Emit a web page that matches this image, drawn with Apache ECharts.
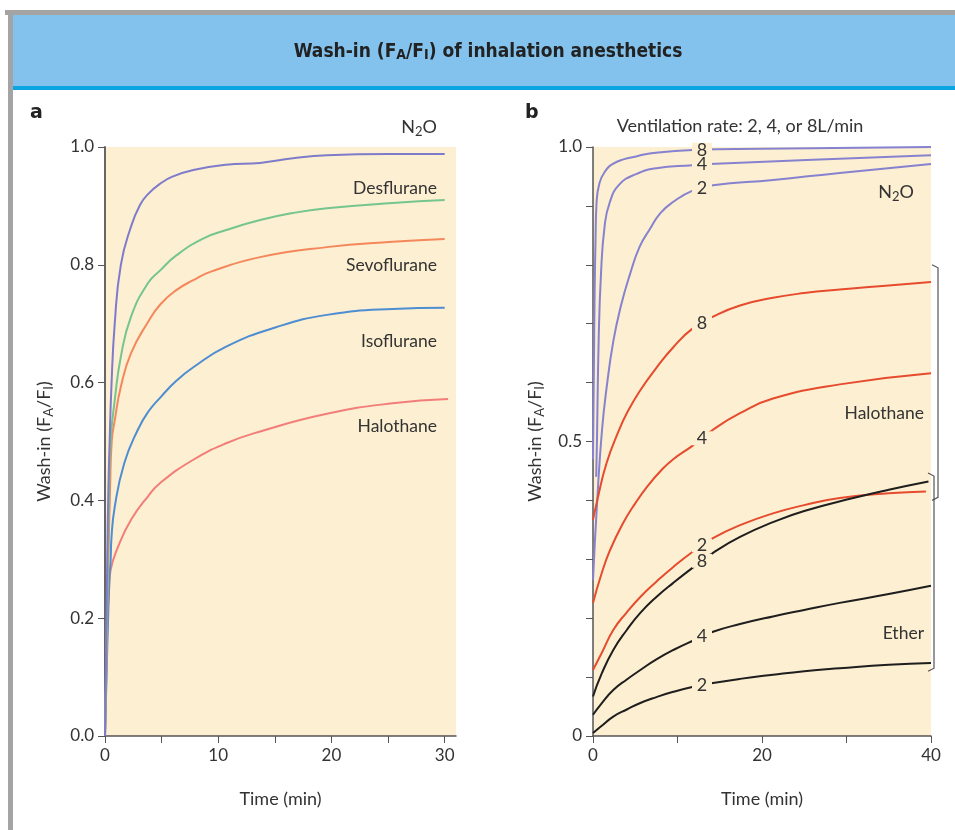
<!DOCTYPE html>
<html><head><meta charset="utf-8">
<script src="https://cdn.jsdelivr.net/npm/echarts@6/dist/echarts.min.js"></script>
<style>html,body{margin:0;padding:0;background:#fff}#c{width:955px;height:830px}</style>
</head><body><div id="c"></div>
<script>
// ---------- Panel a: wash-in by agent (time in min, FA/FI) ----------
const a_N2O = [[0,0],[0.1,0.15],[0.2,0.3],[0.3,0.42],[0.41,0.5],[0.56,0.59],[0.86,0.7],[1.4,0.8],[2.3,0.865],[3.1,0.902],[3.8,0.92],[4.9,0.938],[6,0.95],[7.8,0.961],[10.7,0.97],[13.7,0.973],[16.6,0.981],[19.6,0.986],[25,0.988],[30,0.988]];
const a_Des = [[0,0],[0.1,0.12],[0.25,0.3],[0.35,0.4],[0.5,0.502],[0.86,0.57],[1.4,0.644],[2.3,0.712],[3.8,0.769],[4.9,0.791],[6.3,0.816],[8.7,0.845],[10.7,0.859],[13.7,0.876],[16.6,0.888],[19.6,0.896],[25.4,0.905],[30,0.91]];
const a_Sevo = [[0,0],[0.1,0.1],[0.3,0.3],[0.45,0.42],[0.6,0.502],[0.86,0.536],[1.4,0.593],[2.3,0.65],[3.8,0.703],[4.9,0.733],[6.3,0.757],[7.8,0.774],[9.3,0.788],[13.7,0.813],[19.6,0.83],[25.4,0.839],[30,0.844]];
const a_Iso = [[0,0],[0.2,0.15],[0.4,0.27],[0.5,0.299],[0.56,0.333],[0.86,0.389],[1.7,0.463],[2.9,0.52],[3.8,0.55],[4.9,0.575],[6.3,0.603],[7.8,0.626],[10.7,0.661],[15.1,0.694],[19.6,0.715],[25.4,0.725],[30,0.727]];
const a_Halo = [[0,0],[0.1,0.09],[0.2,0.18],[0.35,0.25],[0.5,0.282],[1.15,0.321],[2.3,0.367],[3.8,0.407],[4.9,0.43],[7.8,0.469],[10.7,0.497],[13.7,0.517],[19.6,0.547],[25.4,0.565],[30.3,0.572]];
const aNames = ['N2O','Desflurane','Sevoflurane','Isoflurane','Halothane'];

// ---------- Panel b: ventilation rate 2, 4, 8 L/min ----------
const b_N2O_8 = [[0,0.47],[0.1,0.62],[0.2,0.76],[0.3,0.842],[0.4,0.899],[0.77,0.939],[1.6,0.962],[2.3,0.971],[3.6,0.979],[5.1,0.984],[6.7,0.989],[11.8,0.995],[20,0.997],[40,1.0]];
const b_N2O_4 = [[0.38,0.44],[0.47,0.503],[0.67,0.672],[0.95,0.786],[1.37,0.865],[1.96,0.905],[3.1,0.936],[5.1,0.954],[7.5,0.964],[11.8,0.969],[13.8,0.971],[25.3,0.978],[40,0.986]];
const b_N2O_2 = [[0,0.265],[0.5,0.4],[1.07,0.52],[1.6,0.59],[2.4,0.67],[3.3,0.73],[4.4,0.785],[5.5,0.83],[6.7,0.86],[8,0.888],[9.5,0.907],[11.8,0.926],[14.2,0.935],[21.3,0.944],[29.2,0.956],[40,0.971]];
const b_Halo_8 = [[0,0.367],[0.5,0.4],[1.6,0.463],[3.1,0.52],[4,0.548],[5.5,0.585],[7.5,0.625],[9.5,0.66],[11.8,0.692],[14.2,0.712],[17.4,0.731],[21.3,0.744],[25,0.752],[29.2,0.758],[35,0.765],[40,0.771]];
const b_Halo_4 = [[0,0.226],[1,0.275],[2,0.315],[3.5,0.36],[5,0.395],[6.5,0.425],[8,0.45],[9.5,0.47],[11.8,0.493],[14.2,0.52],[17.4,0.548],[21.3,0.573],[29.2,0.597],[40,0.616]];
const b_Halo_2 = [[0,0.112],[1,0.14],[2.4,0.18],[4,0.21],[5.6,0.236],[7.5,0.262],[9.5,0.287],[12,0.315],[14.2,0.336],[17.4,0.358],[21.3,0.378],[25,0.392],[29.2,0.404],[35,0.412],[39.4,0.415]];
const b_Ether_8 = [[0,0.067],[1,0.105],[2.4,0.146],[4,0.18],[5.6,0.209],[7.5,0.236],[9.5,0.26],[12,0.288],[14.2,0.311],[17.4,0.338],[21.3,0.363],[25,0.382],[30.8,0.404],[35,0.418],[39.7,0.432]];
const b_Ether_4 = [[0,0.036],[1,0.055],[2.4,0.078],[4,0.096],[5.6,0.112],[7.5,0.13],[9.5,0.146],[12,0.163],[14.2,0.177],[17.4,0.19],[21.3,0.203],[25,0.214],[29.2,0.226],[35,0.241],[40,0.255]];
const b_Ether_2 = [[0,0.005],[1,0.017],[2.4,0.033],[4,0.045],[5.6,0.056],[7.5,0.066],[9.5,0.075],[12,0.084],[14.2,0.09],[17.4,0.097],[21.3,0.104],[25,0.11],[29.2,0.115],[35,0.121],[40,0.124]];
const bRateLabels = ['8','4','2','8','4','2','8','4','2'];
const bLabelTime = 12.9;
const haloBrace = [0.80, 0.40];
const etherBrace = [0.4465, 0.11];

// tick labels
const aXLabels = [0,10,20,30];
const aXTicks = [0,5,10,15,20,25,30];
const bYLabels = [0,0.5,1];

const FONT = "Lato, 'Open Sans', sans-serif";
const BG = '#FDEFD1';
const TXT = '#333';
const PURPLE = '#7F7BCB', GREEN = '#74C58E', ORANGE = '#F5875C', BLUE = '#4D8DD2', PINK = '#F27E7A';
const RED = '#E64B2E', BLACK = '#1E1E1E', BPURPLE = '#8682CF';
const SMOOTH = 0.5;

function interp(d, t){
  for (let i=1;i<d.length;i++){ if (d[i][0]>=t){ const a=d[i-1], b=d[i]; return a[1]+(b[1]-a[1])*(t-a[0])/(b[0]-a[0]); } }
  return d[d.length-1][1];
}

const subRich = {
  n:{fontSize:18, lineHeight:22, color:TXT, fontFamily:FONT},
  s:{fontSize:13, verticalAlign:'bottom', color:TXT, fontFamily:FONT}
};
const yName = '{n|Wash-in (F}{s|A}{n|/F}{s|I}{n|)}';

function lineA(name, data, color){
  return {type:'line', name, data, xAxisIndex:0, yAxisIndex:0, showSymbol:false, smooth:SMOOTH,
    lineStyle:{color, width:2}, itemStyle:{color}, silent:true, z:2};
}
function lineB(name, data, color, lbl){
  return {type:'line', name, data, xAxisIndex:1, yAxisIndex:1, showSymbol:false, smooth:SMOOTH,
    lineStyle:{color, width:2}, itemStyle:{color}, silent:true, z:2,
    markPoint:{symbol:'rect', symbolSize:[20,14], silent:true, itemStyle:{color:BG},
      label:{show:true, position:'inside', formatter:lbl, color:TXT, fontSize:18, fontFamily:FONT},
      data:[{coord:[bLabelTime, interp(data, bLabelTime)]}]}};
}

const chart = echarts.init(document.getElementById('c'), null, {renderer:'canvas'});
const axisLineStyle = {color:'#555', width:1.5};
const tickFont = {fontSize:17, color:TXT, fontFamily:FONT, margin:11};
const nameFont = {fontSize:18, color:TXT, fontFamily:FONT};
const option = {
  animation:false,
  backgroundColor:'#fff',
  grid:[
    {left:105, top:147, width:351, height:589, show:true, backgroundColor:BG, borderWidth:0},
    {left:593, top:147, width:338, height:589, show:true, backgroundColor:BG, borderWidth:0}
  ],
  xAxis:[
    {type:'value', gridIndex:0, min:0, max:31, interval:5,
     axisLine:{show:true, onZero:false, lineStyle:axisLineStyle},
     axisTick:{show:true, length:7, customValues:aXTicks, lineStyle:{color:'#555'}},
     axisLabel:Object.assign({customValues:aXLabels}, tickFont),
     splitLine:{show:false},
     name:'Time (min)', nameLocation:'middle', nameGap:54, nameTextStyle:nameFont},
    {type:'value', gridIndex:1, min:0, max:40, interval:10,
     axisLine:{show:true, onZero:false, lineStyle:axisLineStyle},
     axisTick:{show:true, length:7, lineStyle:{color:'#555'}},
     axisLabel:Object.assign({formatter:v=> (v%20===0 ? String(v) : '')}, tickFont),
     splitLine:{show:false},
     name:'Time (min)', nameLocation:'middle', nameGap:54, nameTextStyle:nameFont}
  ],
  yAxis:[
    {type:'value', gridIndex:0, min:0, max:1, interval:0.2,
     axisLine:{show:true, onZero:false, lineStyle:{color:'#666', width:2}},
     axisTick:{show:true, length:7, lineStyle:{color:'#555'}},
     axisLabel:Object.assign({formatter:v=>v.toFixed(1)}, tickFont),
     splitLine:{show:false},
     name:yName, nameLocation:'middle', nameGap:50, nameTextStyle:{rich:subRich}},
    {type:'value', gridIndex:1, min:0, max:1, interval:0.1,
     axisLine:{show:true, onZero:false, lineStyle:axisLineStyle},
     axisTick:{show:true, length:7, lineStyle:{color:'#555'}},
     axisLabel:Object.assign({customValues:bYLabels, formatter:v=> (Math.abs(v)<1e-9?'0':v.toFixed(1))}, tickFont),
     splitLine:{show:false},
     name:yName, nameLocation:'middle', nameGap:47, nameTextStyle:{rich:subRich}}
  ],
  series:[
    lineA(aNames[4], a_Halo, PINK),
    lineA(aNames[3], a_Iso, BLUE),
    lineA(aNames[2], a_Sevo, ORANGE),
    lineA(aNames[1], a_Des, GREEN),
    lineA(aNames[0], a_N2O, PURPLE),
    lineB('N2O 8', b_N2O_8, BPURPLE, bRateLabels[0]),
    lineB('N2O 4', b_N2O_4, BPURPLE, bRateLabels[1]),
    lineB('N2O 2', b_N2O_2, BPURPLE, bRateLabels[2]),
    lineB('Halothane 8', b_Halo_8, RED, bRateLabels[3]),
    lineB('Halothane 4', b_Halo_4, RED, bRateLabels[4]),
    lineB('Halothane 2', b_Halo_2, RED, bRateLabels[5]),
    lineB('Ether 8', b_Ether_8, BLACK, bRateLabels[6]),
    lineB('Ether 4', b_Ether_4, BLACK, bRateLabels[7]),
    lineB('Ether 2', b_Ether_2, BLACK, bRateLabels[8])
  ]
};
chart.setOption(option);

// decorations & annotations
const lblStyle = (x,y,text,align)=>({type:'text', x, y, silent:true,
  style:{text, fill:TXT, fontSize:17.5, fontFamily:FONT, align:align||'right', verticalAlign:'middle'}});
const n2oText = (x,y)=>({type:'text', x, y, silent:true,
  style:{text:'{n|N}{s|2}{n|O}', align:'right', verticalAlign:'middle',
    rich:{n:{fontSize:18, lineHeight:22, fill:TXT, color:TXT, fontFamily:FONT}, s:{fontSize:13, verticalAlign:'bottom', fill:TXT, color:TXT, fontFamily:FONT}}}});

const p = (v)=>chart.convertToPixel({gridIndex:1}, [40, v]);
const hb0 = p(haloBrace[0]), hb1 = p(haloBrace[1]), eb0 = p(etherBrace[0]), eb1 = p(etherBrace[1]);
const xr = hb0[0];
const TFONT = "'DejaVu Sans Condensed', 'Liberation Sans Narrow', sans-serif";

chart.setOption({graphic:[
  {type:'rect', silent:true, shape:{x:5, y:10, width:950, height:5}, style:{fill:'#A4A4A4'}},
  {type:'rect', silent:true, shape:{x:8, y:10, width:5, height:820}, style:{fill:'#A4A4A4'}},
  {type:'rect', silent:true, shape:{x:13, y:15, width:942, height:72}, style:{fill:'#83C2EC'}},
  {type:'rect', silent:true, shape:{x:13, y:86, width:942, height:4}, style:{fill:'#0BA6E1'}},
  {type:'text', x:488, y:52, silent:true, style:{
    text:'{t|Wash-in (F}{c|A}{t|/F}{c|I}{t|) of inhalation anesthetics}', align:'center', verticalAlign:'middle',
    rich:{t:{fontSize:19, fontWeight:'bold', fontFamily:TFONT, fill:'#222', color:'#222', lineHeight:21},
          c:{fontSize:14, fontWeight:'bold', fontFamily:TFONT, fill:'#222', color:'#222', verticalAlign:'bottom'}}}},
  {type:'text', x:30, y:113, silent:true, style:{text:'a', fill:'#222', fontSize:19, fontWeight:'bold', fontFamily:"'DejaVu Sans', sans-serif", verticalAlign:'middle'}},
  {type:'text', x:525, y:113, silent:true, style:{text:'b', fill:'#222', fontSize:19, fontWeight:'bold', fontFamily:"'DejaVu Sans', sans-serif", verticalAlign:'middle'}},
  n2oText(437,127),
  lblStyle(437,188,'Desflurane'),
  lblStyle(437,265,'Sevoflurane'),
  lblStyle(437,341,'Isoflurane'),
  lblStyle(437,426,'Halothane'),
  {type:'text', x:740, y:126, silent:true, style:{text:'Ventilation rate: 2, 4, or 8L/min', fill:TXT, fontSize:18, fontFamily:FONT, align:'center', verticalAlign:'middle'}},
  n2oText(914,192),
  lblStyle(924,413,'Halothane'),
  lblStyle(924,633,'Ether'),
  {type:'polyline', silent:true, shape:{points:[[xr+1,hb0[1]],[xr+7,hb0[1]+3],[xr+7,hb1[1]-3],[xr+1,hb1[1]]]}, style:{stroke:'#555', lineWidth:1.2, fill:null}},
  {type:'polyline', silent:true, shape:{points:[[xr-3,eb0[1]],[xr+3,eb0[1]+3],[xr+3,eb1[1]-3],[xr-3,eb1[1]]]}, style:{stroke:'#555', lineWidth:1.2, fill:null}}
]});
</script></body></html>
